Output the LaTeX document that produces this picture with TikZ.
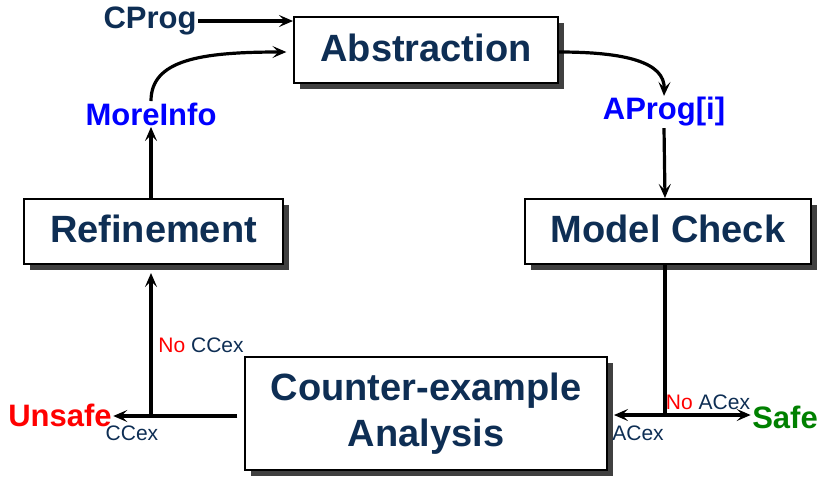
\documentclass[tikz,border=0pt]{standalone}
\usepackage{fontspec}
\setmainfont{Liberation Sans}
\usetikzlibrary{arrows.meta,shadows}
\definecolor{navy}{RGB}{14,46,84}
\definecolor{safegreen}{RGB}{0,128,0}
\definecolor{shadowgray}{RGB}{64,64,64}
\begin{document}
\begin{tikzpicture}[x=0.75pt,y=-0.75pt,
  box/.style={draw=black, line width=1.5pt, fill=white, rectangle, inner sep=0pt,
    align=center, text=navy,
    font=\fontsize{28.5}{34}\selectfont\bfseries,
    drop shadow={shadow xshift=4.5pt, shadow yshift=-4.5pt, fill=shadowgray, opacity=1}},
  onebox/.style={box, text depth=4pt},
  biglabel/.style={inner sep=1pt, font=\fontsize{23.25}{26}\selectfont\bfseries},
  smalllabel/.style={inner sep=1pt, text=navy, font=\fontsize{15.75}{18}\selectfont},
  arr/.style={line width=2.4pt, -{Stealth[length=10.5pt,width=9pt,inset=4.5pt]}},
  plain/.style={line width=2.4pt}]
\useasboundingbox (0,0) rectangle (820,476);

% process boxes
\node[onebox, minimum width=198pt, minimum height=49.5pt] (abs) at (426,50) {Abstraction};
\node[onebox, minimum width=194.25pt, minimum height=48.75pt] (ref) at (153.5,231.5) {Refinement};
\node[onebox, minimum width=214.5pt, minimum height=48.75pt] (mc) at (668,231.5) {Model Check};
\node[box, minimum width=271.5pt, minimum height=84.75pt] (cea) at (426,413.5) {Counter-example\\Analysis};

% data labels
\node[biglabel, text=navy] (cprog) at (150,21) {CProg};
\node[biglabel, text=blue] (mi) at (151,114) {MoreInfo};
\node[biglabel, text=blue] (aprog) at (664,112) {AProg[i]};
\node[biglabel, text=red] (unsafe) at (60,415) {Unsafe};
\node[biglabel, text=safegreen] (safe) at (785,417) {Safe};

% branch points
\coordinate (mcsplit) at (665,415);
\coordinate (ccsplit) at (151,416);

% outcome labels
\node[smalllabel] (nocc) at (201,345) {\textcolor{red}{No} CCex};
\node[smalllabel] (cc) at (132,433) {CCex};
\node[smalllabel] (noac) at (708,402) {\textcolor{red}{No} ACex};
\node[smalllabel] (ac) at (638,433) {ACex};

% connectors
\draw[arr] (cprog.east) -- (cprog.east -| abs.west);
\draw[arr] (mi.south |- ref.north) -- (mi.south);
\draw[arr, shorten >=5pt] (mi.north) .. controls (151,60) and (200,52) .. (abs.west |- 0,52);
\draw[arr] (abs.east |- 0,52) .. controls (625,52) and (665,62) .. (aprog.north);
\draw[arr] (aprog.south) -- (mcsplit |- mc.north);
\draw[plain] (mcsplit |- mc.south) -- (mcsplit);
\draw[arr, shorten >=4.5pt] (mcsplit) -- (cea.east |- mcsplit);
\draw[arr] (mcsplit) -- (safe.west |- mcsplit);
\draw[plain, shorten <=5pt] (cea.west |- ccsplit) -- (ccsplit);
\draw[arr] (ccsplit) -- (unsafe.east |- ccsplit);
\draw[arr, shorten >=6pt] (ccsplit) -- (ccsplit |- ref.south);
\end{tikzpicture}
\end{document}
